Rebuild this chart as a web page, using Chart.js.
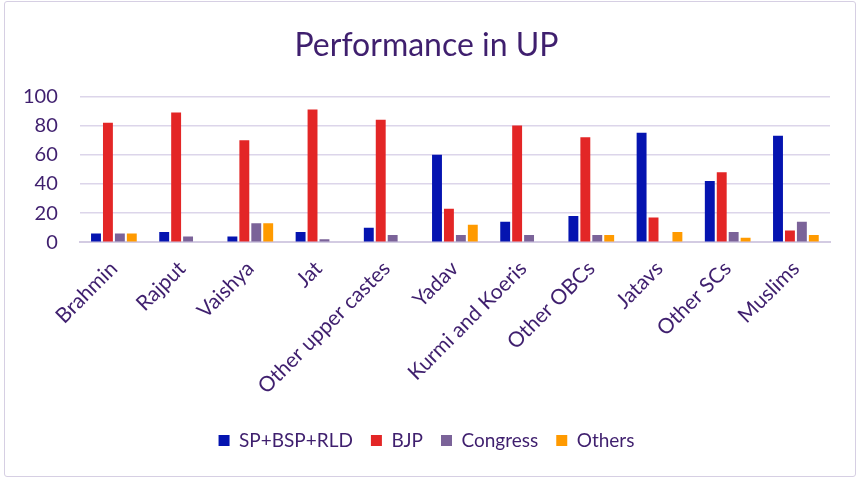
<!DOCTYPE html>
<html>
<head>
<meta charset="utf-8">
<script src="https://cdn.jsdelivr.net/npm/chart.js@4"></script>
<style>
  html, body { margin: 0; padding: 0; background: #ffffff; }
  #wrap { position: absolute; left: 4px; top: 1px; width: 852px; height: 476px; border: 1.5px solid #d6cfe3; border-radius: 3px; box-sizing: border-box; background: #fff; }
  canvas { display: block; }
</style>
</head>
<body>
<div id="wrap"><canvas id="c" width="849" height="473"></canvas></div>
<script>
const categories = ["Brahmin", "Rajput", "Vaishya", "Jat", "Other upper castes", "Yadav", "Kurmi and Koeris", "Other OBCs", "Jatavs", "Other SCs", "Muslims"];
const spBspRld = [6, 7, 4, 7, 10, 60, 14, 18, 75, 42, 73];
const bjp      = [82, 89, 70, 91, 84, 23, 80, 72, 17, 48, 8];
const congress = [6, 4, 13, 2, 5, 5, 5, 5, 0, 7, 14];
const others   = [6, 0, 13, 0, 0.5, 12, 0.5, 5, 7, 3, 5];
const yTicks = [0, 20, 40, 60, 80, 100];

const textColor = "#3f1f6e";
const fontFamily = "Lato, 'Open Sans', sans-serif";

new Chart(document.getElementById("c"), {
  type: "bar",
  data: {
    labels: categories,
    datasets: [
      { label: "SP+BSP+RLD", data: spBspRld, backgroundColor: "#0514b0" },
      { label: "BJP", data: bjp, backgroundColor: "#e32626" },
      { label: "Congress", data: congress, backgroundColor: "#7b6399" },
      { label: "Others", data: others, backgroundColor: "#ff9a00" }
    ]
  },
  options: {
    responsive: false,
    animation: false,
    devicePixelRatio: 1,
    layout: { padding: { left: 18, right: 24, top: 20, bottom: 15 } },
    datasets: { bar: { categoryPercentage: 0.70, barPercentage: 0.83 } },
    plugins: {
      title: {
        display: true,
        text: "Performance in UP",
        color: textColor,
        font: { family: fontFamily, size: 32, weight: "normal" },
        padding: { top: 4, bottom: 32 }
      },
      legend: {
        position: "bottom",
        labels: {
          color: textColor,
          font: { family: fontFamily, size: 19 },
          boxWidth: 11,
          boxHeight: 11,
          padding: 18
        }
      },
      tooltip: { enabled: false }
    },
    scales: {
      x: {
        afterFit: (scale) => { scale.paddingLeft = 0; },
        grid: { display: false, drawTicks: false },
        border: { color: "#d3cbe2", width: 2 },
        ticks: {
          color: textColor,
          font: { family: fontFamily, size: 21 },
          minRotation: 45,
          maxRotation: 45,
          autoSkip: false,
          padding: 14
        }
      },
      y: {
        min: 0,
        max: 100,
        afterBuildTicks: (axis) => { axis.ticks = yTicks.map(v => ({ value: v })); },
        afterFit: (scale) => { scale.width = scale.width - scale.options.ticks.padding; },
        grid: { color: "#dcd5ea", lineWidth: 1.5, drawTicks: false },
        border: { display: false },
        ticks: {
          color: textColor,
          font: { family: fontFamily, size: 20 },
          padding: 22
        }
      }
    }
  }
});
</script>
</body>
</html>
